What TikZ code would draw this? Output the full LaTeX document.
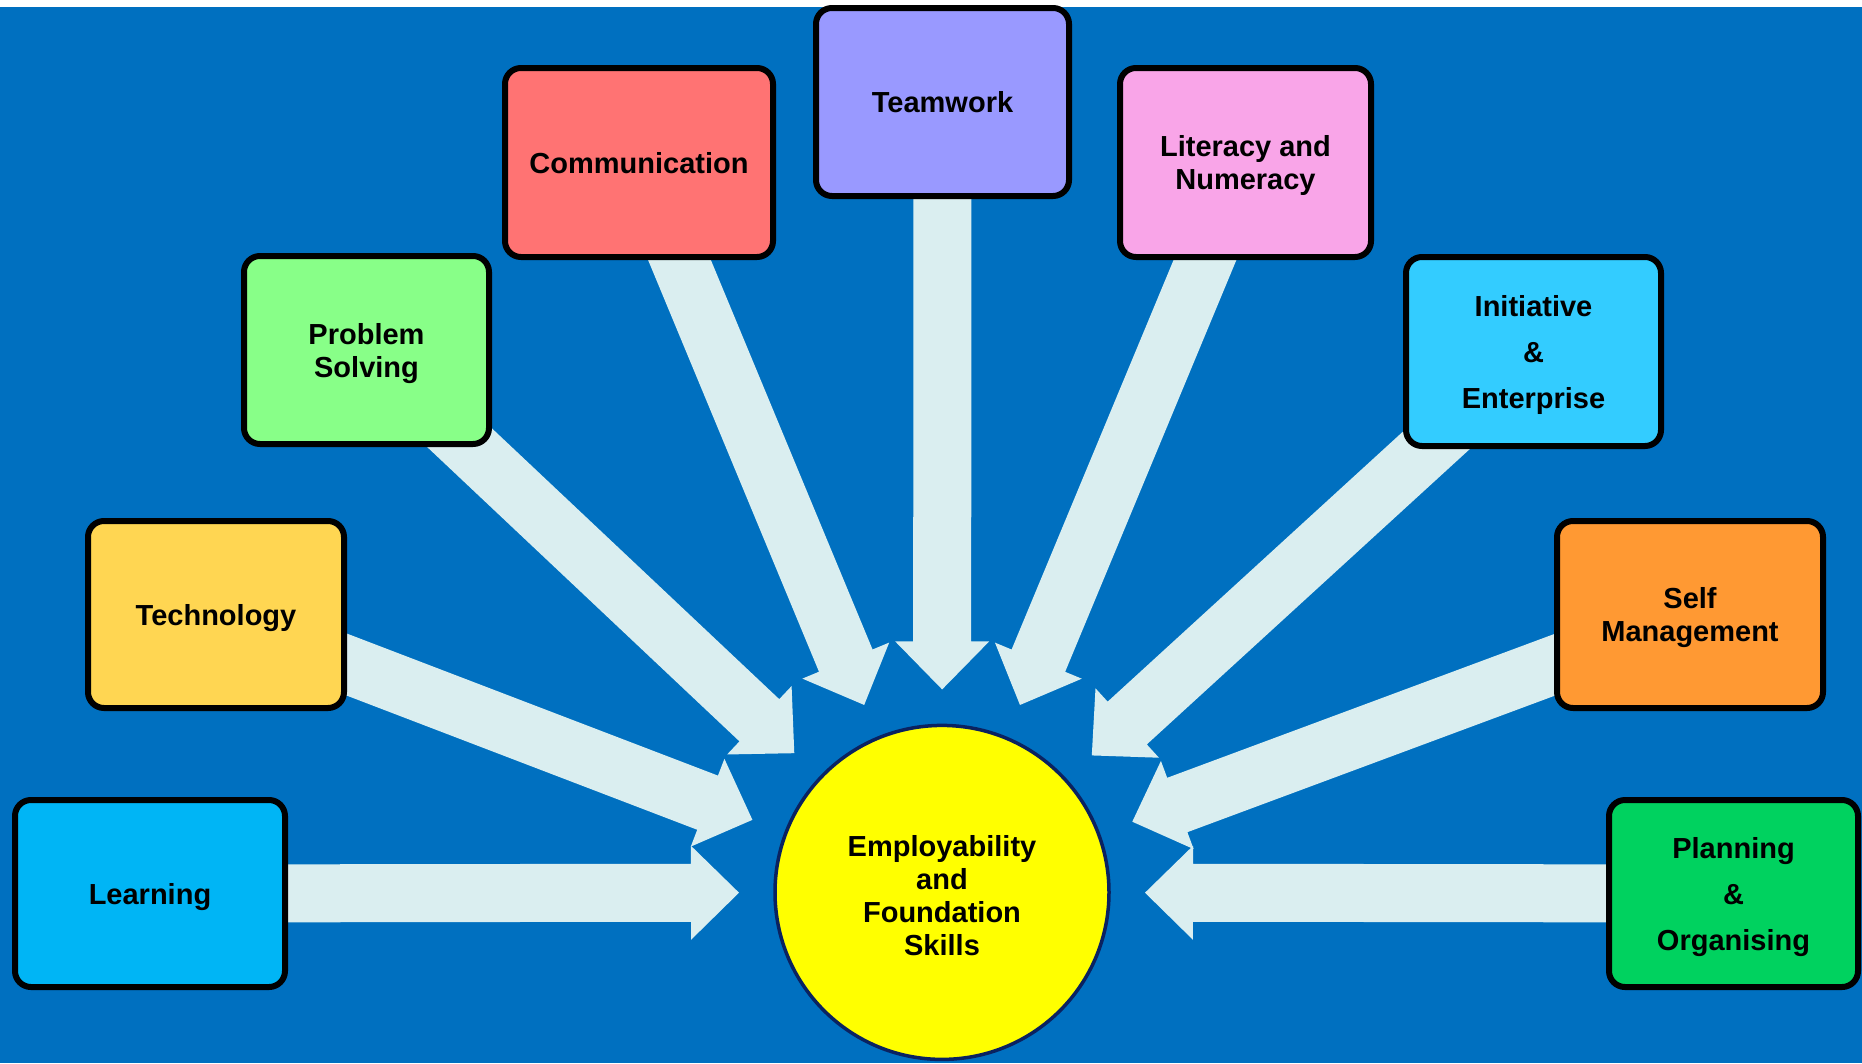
\documentclass[tikz,border=0pt]{standalone}
\usepackage{fontspec}
\setmainfont{Liberation Sans}
\usetikzlibrary{calc}
\pgfdeclarelayer{bg}
\pgfsetlayers{bg,main}
\definecolor{bgblue}{HTML}{0070C0}
\definecolor{arrowfill}{HTML}{DAEEF0}
\definecolor{hubline}{HTML}{0A2260}
\definecolor{hubyellow}{HTML}{FFFF00}
\definecolor{clearn}{HTML}{00B5F5}
\definecolor{ctech}{HTML}{FFD652}
\definecolor{cprob}{HTML}{88FF88}
\definecolor{ccomm}{HTML}{FF7373}
\definecolor{cteam}{HTML}{9999FF}
\definecolor{clit}{HTML}{F9A5E8}
\definecolor{cinit}{HTML}{33CCFF}
\definecolor{cself}{HTML}{FF9933}
\definecolor{cplan}{HTML}{00D25F}
\tikzset{
  skill/.style={draw=black, line width=6pt, rounded corners=16pt, align=center,
    font=\fontsize{29}{33}\selectfont\bfseries, inner sep=0pt, text depth=0pt},
  wideskip/.style={font=\fontsize{29}{46}\selectfont\bfseries},
  hub/.style={circle, draw=hubline, line width=3.5pt, fill=hubyellow,
    minimum size=334pt, inner sep=0pt},
  hubtext/.style={align=center, font=\fontsize{29}{33}\selectfont\bfseries,
    inner sep=0pt, text depth=0pt},
  blockarrow/.style={fill=arrowfill, draw=none}
}
\newcommand{\skillarrow}[1]{%
  \coordinate (T) at ($(hub.center)!203pt!(#1.center)$);
  \coordinate (H) at ($(hub.center)!251pt!(#1.center)$);
  \fill[blockarrow] (T) -- ($(H)!47pt!90:(hub.center)$) -- ($(H)!29pt!90:(hub.center)$)
    -- ($(#1.center)!29pt!90:(hub.center)$) -- ($(#1.center)!29pt!-90:(hub.center)$)
    -- ($(H)!29pt!-90:(hub.center)$) -- ($(H)!47pt!-90:(hub.center)$) -- cycle;
}
\begin{document}
\begin{tikzpicture}[x=1pt,y=-1pt]
\useasboundingbox (0,0) rectangle (1862,1063);
\node[hub] (hub) at (942,892.4) {};
\node[hubtext] (hublabel) at (942,895) {Employability\\and\\Foundation\\Skills};
\node[skill, fill=clearn, minimum width=270pt, minimum height=187pt] (learn) at (150,893.5) {Learning};
\node[skill, fill=ctech, minimum width=256pt, minimum height=187pt] (tech) at (216,614.5) {Technology};
\node[skill, fill=cprob, minimum width=245pt, minimum height=188pt] (prob) at (366.5,350) {Problem\\Solving};
\node[skill, fill=ccomm, minimum width=268pt, minimum height=189pt] (comm) at (639,162.5) {Communication};
\node[skill, fill=cteam, minimum width=253pt, minimum height=188pt] (team) at (942.5,102) {Teamwork};
\node[skill, fill=clit, minimum width=251pt, minimum height=189pt] (lit) at (1245.5,162.5) {Literacy and\\Numeracy};
\node[skill, wideskip, fill=cinit, minimum width=255pt, minimum height=189pt] (init) at (1533.5,351.5) {Initiative\\\&\\Enterprise};
\node[skill, fill=cself, minimum width=266pt, minimum height=187pt] (self) at (1690,614.5) {Self\\Management};
\node[skill, wideskip, fill=cplan, minimum width=249pt, minimum height=187pt] (plan) at (1733.5,893.5) {Planning\\\&\\Organising};
\begin{pgfonlayer}{bg}
  \fill[white] (0,0) rectangle (1862,1063);
  \fill[bgblue] (0,7) rectangle (1862,1063);
  \skillarrow{learn}
  \skillarrow{tech}
  \skillarrow{prob}
  \skillarrow{comm}
  \skillarrow{team}
  \skillarrow{lit}
  \skillarrow{init}
  \skillarrow{self}
  \skillarrow{plan}
\end{pgfonlayer}
\end{tikzpicture}
\end{document}
